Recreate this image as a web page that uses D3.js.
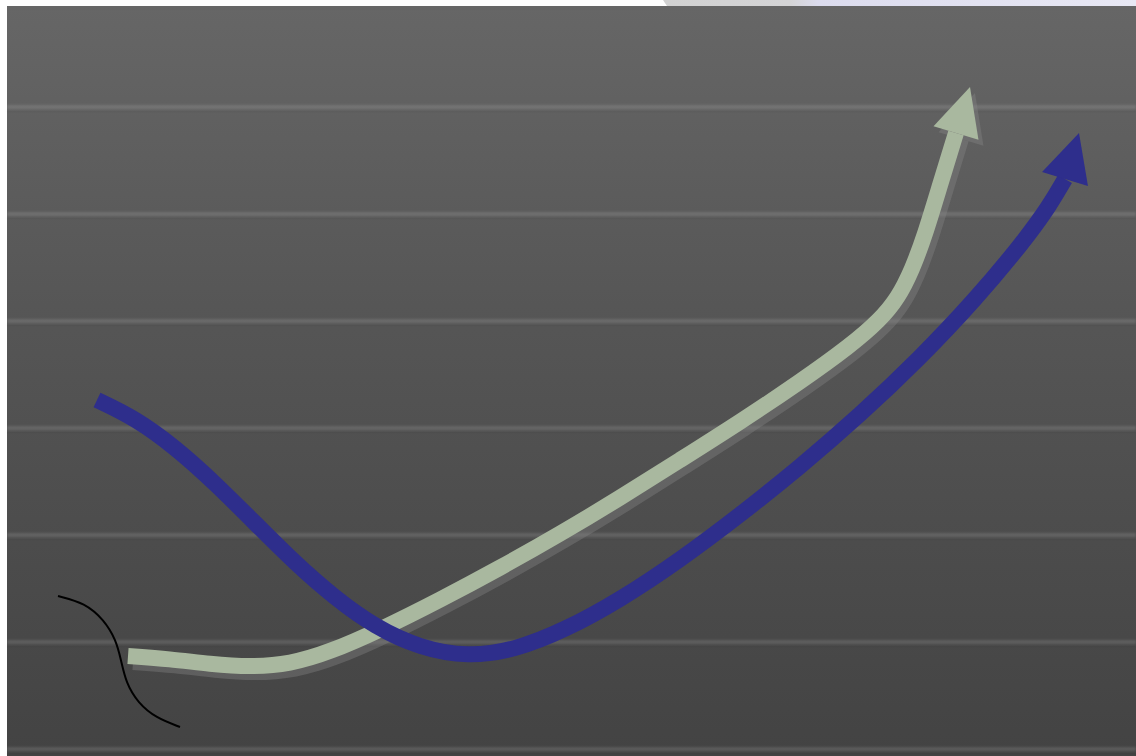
<!DOCTYPE html>
<html>
<head>
<meta charset="utf-8">
<script src="https://cdn.jsdelivr.net/npm/d3@7"></script>
<style>
  html, body { margin: 0; padding: 0; background: #ffffff; }
  svg { display: block; }
</style>
</head>
<body>
<svg id="chart" width="1136" height="756"></svg>
<script>
// ---- data (x: 0..112.9, y: 0..7 grid units) ----
const gridLevels = [0, 1, 2, 3, 4, 5, 6];

const greenX = [12.1, 16.3, 20.3, 24.3, 28.3, 32.3, 37.3, 43.3, 49.3, 55.3, 61.3, 67.3, 73.3, 79.3, 84.3, 87.3, 89.1, 90.5, 91.8, 93.3, 94.9];
const greenY = [0.869, 0.841, 0.794, 0.766, 0.794, 0.907, 1.112, 1.393, 1.692, 2.009, 2.346, 2.701, 3.056, 3.430, 3.766, 4.009, 4.215, 4.477, 4.804, 5.271, 5.757];
const greenTip = [96.3, 6.187];

const blueX = [9.0, 12.8, 16.8, 20.8, 24.8, 28.8, 32.8, 36.8, 41.3, 46.1, 50.8, 55.8, 61.3, 67.3, 73.3, 79.3, 85.3, 91.3, 96.8, 101.8, 104.3, 105.8];
const blueY = [3.262, 3.093, 2.822, 2.486, 2.112, 1.738, 1.411, 1.140, 0.944, 0.860, 0.925, 1.112, 1.393, 1.766, 2.187, 2.636, 3.121, 3.654, 4.196, 4.757, 5.084, 5.327];
const blueTip = [107.2, 5.757];

const blackX = [5.1, 7.8, 9.7, 10.9, 11.4, 11.9, 13.1, 14.9, 17.3];
const blackY = [1.430, 1.364, 1.206, 1.019, 0.832, 0.617, 0.430, 0.290, 0.206];

// ---- layout ----
const W = 1136, H = 756;
const plotLeft = 7, plotTop = 6;
const x = d3.scaleLinear().domain([0, 112.9]).range([7, 1136]);
const y = d3.scaleLinear().domain([0, 7]).range([749, 0]);

const svg = d3.select("#chart");
const defs = svg.append("defs");

const bg = defs.append("linearGradient").attr("id", "bgGrad")
  .attr("x1", 0).attr("y1", 0).attr("x2", 0).attr("y2", 1);
bg.append("stop").attr("offset", "0%").attr("stop-color", "#666666");
bg.append("stop").attr("offset", "40%").attr("stop-color", "#565656");
bg.append("stop").attr("offset", "100%").attr("stop-color", "#434343");

const topG = defs.append("linearGradient").attr("id", "topGrad")
  .attr("x1", 0).attr("y1", 0).attr("x2", 1).attr("y2", 0);
topG.append("stop").attr("offset", "0%").attr("stop-color", "#d2d2d2");
topG.append("stop").attr("offset", "27%").attr("stop-color", "#d4d4d6");
topG.append("stop").attr("offset", "33%").attr("stop-color", "#dcdcee");
topG.append("stop").attr("offset", "100%").attr("stop-color", "#e8e8f4");

const blur = defs.append("filter").attr("id", "soft")
  .attr("x", "-1%").attr("y", "-200%").attr("width", "102%").attr("height", "500%");
blur.append("feGaussianBlur").attr("stdDeviation", 1.3);

// decorative top band
svg.append("path")
  .attr("d", `M663,0 L${W},0 L${W},${plotTop} L667,${plotTop} Z`)
  .attr("fill", "url(#topGrad)");

// background plot area
svg.append("rect")
  .attr("x", plotLeft).attr("y", plotTop)
  .attr("width", W - plotLeft).attr("height", H - plotTop)
  .attr("fill", "url(#bgGrad)");

// grid lines
const grid = svg.append("g").attr("filter", "url(#soft)");
grid.selectAll("line.hi").data(gridLevels).join("line")
  .attr("class", "hi")
  .attr("x1", plotLeft).attr("x2", W)
  .attr("y1", d => y(d)).attr("y2", d => y(d))
  .attr("stroke", "rgba(255,255,255,0.12)")
  .attr("stroke-width", 4);
grid.selectAll("line.lo").data(gridLevels).join("line")
  .attr("class", "lo")
  .attr("x1", plotLeft).attr("x2", W)
  .attr("y1", d => y(d) + 4).attr("y2", d => y(d) + 4)
  .attr("stroke", "rgba(0,0,0,0.05)")
  .attr("stroke-width", 2);

const line = d3.line().x(d => x(d[0])).y(d => y(d[1])).curve(d3.curveBasis);
const zip = (a, b) => a.map((v, i) => [v, b[i]]);

function arrowHead(pts, tip, halfW) {
  const b = pts[pts.length - 1];
  const bx = x(b[0]), by = y(b[1]);
  const tx = x(tip[0]), ty = y(tip[1]);
  const dx = tx - bx, dy = ty - by, L = Math.hypot(dx, dy);
  const nx = -dy / L, ny = dx / L;
  return `M${tx},${ty} L${bx + nx * halfW},${by + ny * halfW} L${bx - nx * halfW},${by - ny * halfW} Z`;
}

const green = zip(greenX, greenY);
const blue = zip(blueX, blueY);
const black = zip(blackX, blackY);

// green shadow
const sh = svg.append("g").attr("transform", "translate(5,6)");
sh.append("path").attr("d", line(green)).attr("fill", "none")
  .attr("stroke", "rgba(135,135,135,0.38)").attr("stroke-width", 16).attr("stroke-linecap", "butt");
sh.append("path").attr("d", arrowHead(green, greenTip, 23.5)).attr("fill", "rgba(135,135,135,0.38)");

// green arrow
svg.append("path").attr("d", line(green)).attr("fill", "none")
  .attr("stroke", "#a9b89f").attr("stroke-width", 16).attr("stroke-linecap", "butt");
svg.append("path").attr("d", arrowHead(green, greenTip, 23.5)).attr("fill", "#a9b89f");

// blue arrow
svg.append("path").attr("d", line(blue)).attr("fill", "none")
  .attr("stroke", "#2e2e8c").attr("stroke-width", 16).attr("stroke-linecap", "butt");
svg.append("path").attr("d", arrowHead(blue, blueTip, 24)).attr("fill", "#2e2e8c");

// black thin curve
svg.append("path").attr("d", line(black)).attr("fill", "none")
  .attr("stroke", "#000000").attr("stroke-width", 2);
</script>
</body>
</html>
